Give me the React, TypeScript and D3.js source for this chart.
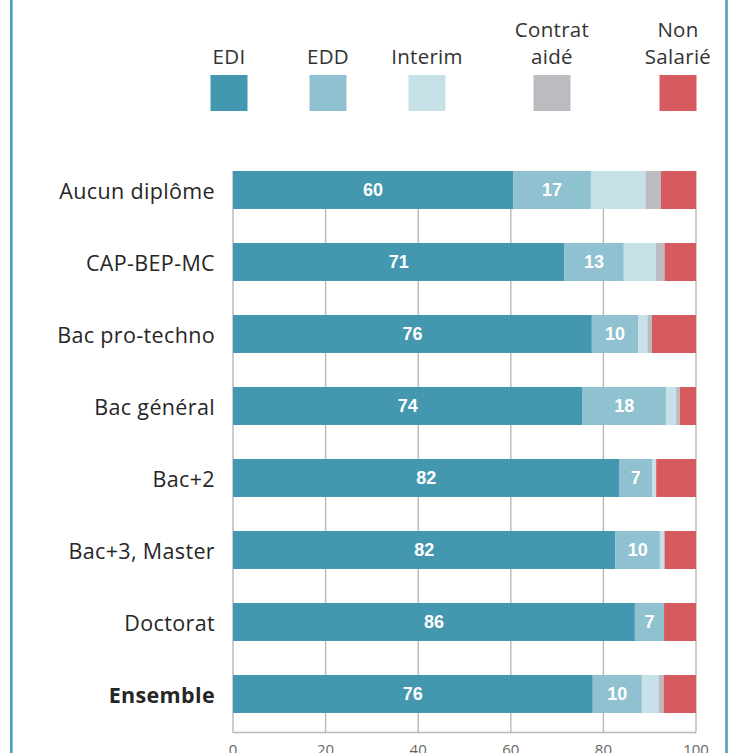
import React from "react";
import * as d3 from "d3";

const categories = [
  "Aucun diplôme",
  "CAP-BEP-MC",
  "Bac pro-techno",
  "Bac général",
  "Bac+2",
  "Bac+3, Master",
  "Doctorat",
  "Ensemble",
];
const seriesNames = ["EDI", "EDD", "Interim", "Contrat aidé", "Non Salarié"];
const legendLines = [["EDI"], ["EDD"], ["Interim"], ["Contrat", "aidé"], ["Non", "Salarié"]];
const edi = [60.5, 71.6, 77.5, 75.5, 83.5, 82.6, 86.8, 77.7];
const edd = [16.8, 12.8, 10.0, 18.0, 7.0, 9.6, 6.3, 10.6];
const interim = [11.8, 6.9, 2.0, 2.2, 0.8, 1.0, 0.0, 3.6];
const contrat = [3.3, 1.9, 1.0, 0.8, 0.1, 0.0, 0.0, 1.1];
const nonSalarie = [7.6, 6.8, 9.5, 3.5, 8.6, 6.8, 6.9, 7.0];
const ediLabels = ["60", "71", "76", "74", "82", "82", "86", "76"];
const eddLabels = ["17", "13", "10", "18", "7", "10", "7", "10"];
const ticks = [0, 20, 40, 60, 80, 100];
const colors = ["#4398b0", "#8fc1d0", "#c7e1e8", "#bbbcc0", "#d75b5e"];

export default function App() {
  const W = 734;
  const H = 753;
  const x = d3.scaleLinear().domain([0, 100]).range([233, 696]);
  const y = d3
    .scaleBand<string>()
    .domain(categories)
    .range([154, 730])
    .paddingInner(34 / 72)
    .paddingOuter(17 / 72);

  const rows = categories.map((c, i) => ({
    cat: c,
    vals: [edi[i], edd[i], interim[i], contrat[i], nonSalarie[i]],
  }));
  const stack = d3
    .stack<any>()
    .keys(seriesNames)
    .value((d: any, key: string) => d.vals[seriesNames.indexOf(key)]);
  const series = stack(rows);
  const valueLabels = [ediLabels, eddLabels];

  const legendX = [229, 328, 427, 552, 678];
  const font = "'Open Sans', 'Segoe UI', sans-serif";

  return (
    <svg
      width={W}
      height={H}
      style={{ position: "absolute", left: 0, top: 0, background: "#fff" }}
    >
      <rect x={0} y={0} width={W} height={H} fill="#fff" />
      {/* frame */}
      <rect x={11.3} y={-20} width={715.2} height={H + 40} fill="none" stroke="#4aa0b8" strokeWidth={2.6} />

      {/* gridlines */}
      {ticks.map((t) => (
        <line
          key={t}
          x1={x(t)}
          x2={x(t)}
          y1={171}
          y2={732.5}
          stroke="#b8b8b8"
          strokeWidth={1.4}
        />
      ))}
      <line x1={x(0)} x2={x(100)} y1={732.5} y2={732.5} stroke="#b8b8b8" strokeWidth={1.6} />

      {/* tick labels */}
      {ticks.map((t) => (
        <text
          key={t}
          x={x(t)}
          y={755}
          textAnchor="middle"
          fontFamily={font}
          fontSize={15}
          fill="#666"
        >
          {t}
        </text>
      ))}

      {/* bars */}
      {series.map((s, si) =>
        s.map((d: any, i: number) => {
          const x0 = x(d[0]);
          const x1 = x(d[1]);
          if (x1 - x0 <= 0) return null;
          return (
            <rect
              key={si + "-" + i}
              x={x0}
              y={y(categories[i])}
              width={x1 - x0}
              height={y.bandwidth()}
              fill={colors[si]}
            />
          );
        })
      )}

      {/* value labels */}
      {series.slice(0, 2).map((s, si) =>
        s.map((d: any, i: number) => (
          <text
            key={"l" + si + "-" + i}
            x={(x(d[0]) + x(d[1])) / 2}
            y={(y(categories[i]) as number) + y.bandwidth() / 2}
            dy="0.36em"
            textAnchor="middle"
            fontFamily="'Liberation Sans', Arial, sans-serif"
            fontWeight="bold"
            fontSize={18}
            fill="#fff"
          >
            {valueLabels[si][i]}
          </text>
        ))
      )}

      {/* category labels */}
      {categories.map((c, i) => (
        <text
          key={c}
          x={215}
          y={(y(c) as number) + y.bandwidth() / 2}
          dy="0.42em"
          textAnchor="end"
          fontFamily={font}
          fontSize={21.5}
          letterSpacing={0.35}
          fontWeight={c === "Ensemble" ? 700 : 400}
          fill="#262626"
        >
          {c}
        </text>
      ))}

      {/* legend */}
      {seriesNames.map((n, i) => (
        <g key={n}>
          <rect x={legendX[i] - 18.5} y={75} width={37} height={36} fill={colors[i]} />
          {legendLines[i].map((ln, k) => (
            <text
              key={k}
              x={legendX[i]}
              y={64 - (legendLines[i].length - 1 - k) * 27}
              textAnchor="middle"
              fontFamily={font}
              fontSize={20.5}
              letterSpacing={0.3}
              fill="#333"
            >
              {ln}
            </text>
          ))}
        </g>
      ))}
    </svg>
  );
}
